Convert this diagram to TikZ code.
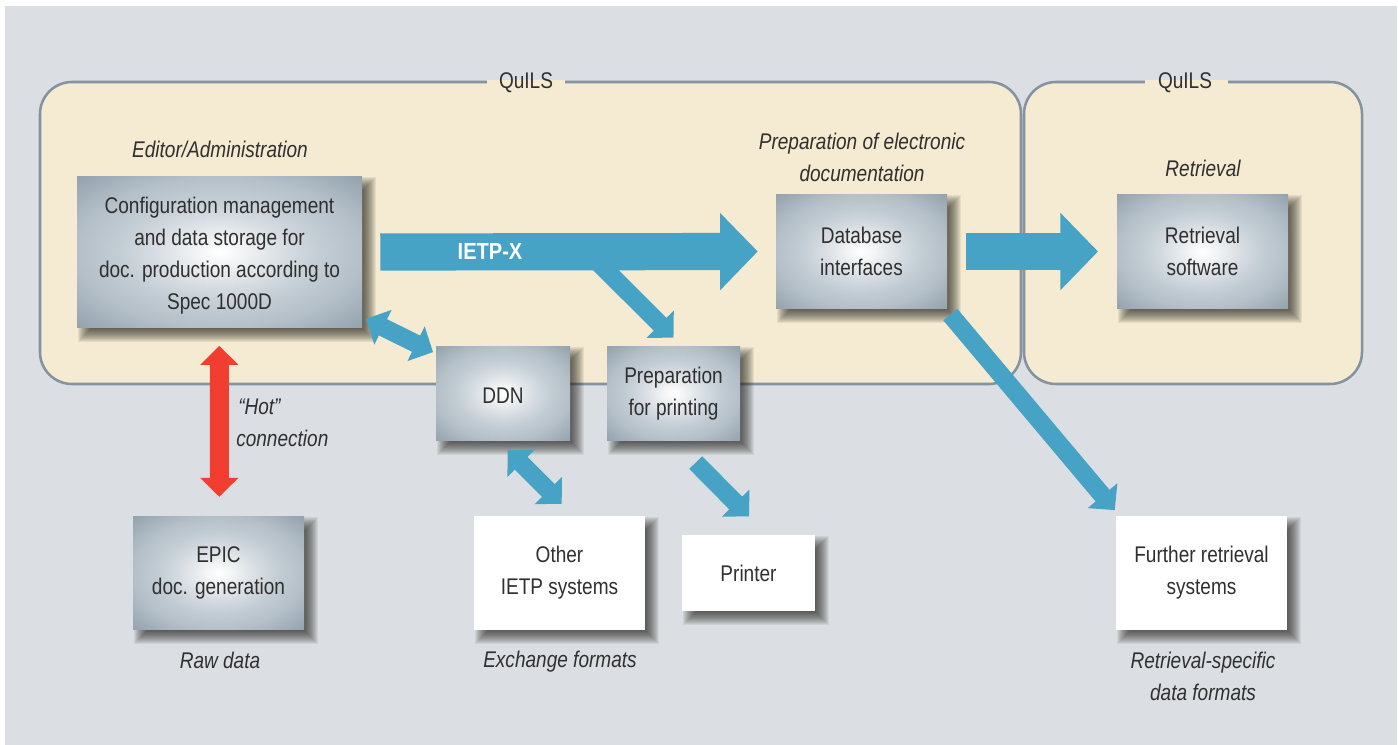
\documentclass[tikz,border=0pt]{standalone}
\usepackage{fontspec}
\setmainfont{Liberation Sans}[FakeStretch=0.84]
\newfontfamily\boldcond{Liberation Sans Bold}[FakeStretch=0.86]
\usetikzlibrary{arrows.meta,calc}
\definecolor{bgc}{HTML}{DBDFE3}
\definecolor{panelc}{HTML}{F5EAD2}
\definecolor{panelline}{HTML}{83939F}
\definecolor{arrowc}{HTML}{46A3C5}
\definecolor{hotc}{HTML}{F13E31}
\definecolor{textc}{HTML}{303030}
\definecolor{shadowc}{HTML}{1E1C18}
\definecolor{sa}{HTML}{F2F4F5}
\definecolor{sb}{HTML}{D8DEE3}
\definecolor{sc}{HTML}{C2CCD3}
\definecolor{sd}{HTML}{B4BFC8}
\definecolor{se}{HTML}{94A3AE}
\pgfdeclareradialshading{boxrad}{\pgfpoint{0bp}{0bp}}{%
  color(0bp)=(white);
  color(4bp)=(sa);
  color(11bp)=(sb);
  color(18bp)=(sc);
  color(25bp)=(sd);
  color(35bp)=(se);
  color(50bp)=(se)}
\tikzset{
  x=0.75pt,y=-0.75pt,
  panel/.style={draw=panelline,line width=1.9pt,fill=panelc,rounded corners=24pt},
  boxbase/.style={inner sep=0pt,align=center,text=textc,font=\fontsize{17}{24}\selectfont},
  graybox/.style={boxbase,shading=boxrad},
  whitebox/.style={boxbase,fill=white},
  caption/.style={inner sep=0pt,align=center,text=textc,font=\fontsize{17}{24}\selectfont\itshape},
  titlegap/.style={fill=panelc,inner sep=0pt,minimum height=2.6pt},
  paneltitle/.style={inner sep=0pt,text=textc,font=\fontsize{17}{24}\selectfont},
  bigflow/.style={draw=arrowc,line width=27.9pt,-{Triangle[length=28.2pt,width=56.25pt,fill=arrowc]}},
  smallflow/.style={draw=arrowc,line width=13.6pt,-{Triangle[length=14.2pt,width=28.2pt,fill=arrowc]}},
  bothflow/.style={draw=arrowc,line width=13.6pt,{Triangle[length=14.2pt,width=28.2pt,fill=arrowc]}-{Triangle[length=14.2pt,width=28.2pt,fill=arrowc]}},
  hotflow/.style={draw=hotc,line width=14.2pt,{Triangle[length=14.2pt,width=27.8pt,fill=hotc]}-{Triangle[length=14.2pt,width=27.8pt,fill=hotc]}},
}
% name, style, x1, y1, x2, y2, text
\newcommand\boxat[7]{%
  \foreach \blurstep in {-7,-6,-5,-4,-3,-2,-1,0,1,2,3,4,5,6,7}{%
    \pgfmathsetmacro\sxa{#3+8-\blurstep}
    \pgfmathsetmacro\sya{#4+8-\blurstep}
    \pgfmathsetmacro\sxb{#5+7+\blurstep}
    \pgfmathsetmacro\syb{#6+7+\blurstep}
    \fill[shadowc,fill opacity=0.072] (\sxa,\sya) rectangle (\sxb,\syb);
  }
  \node[#2,minimum width={(#5-#3)*0.75pt},minimum height={(#6-#4-0.8)*0.75pt}]
    (#1) at ({(#3+#5)/2},{(#4+#6)/2}) {#7};
}
\begin{document}
\begin{tikzpicture}
\useasboundingbox (0,0) rectangle (1398,745);
\fill[white] (0,0) rectangle (1398,745);
\fill[bgc] (5,6) rectangle (1397,745);
% panels
\draw[panel] (40,82) rectangle (1021,384);
\draw[panel] (1024,82) rectangle (1362,384);
\node[titlegap,minimum width=58.5pt] (g1) at (526,82) {};
\node[titlegap,minimum width=62pt] (g2) at (1186.3,82) {};
\node[paneltitle] (q1) at (526,82.5) {QuILS};
\node[paneltitle] (q2) at (1185,82.5) {QuILS};
% boxes
\boxat{cfg}{graybox}{77}{176}{362}{328}{\rule{0pt}{18pt}Configuration management\\and data storage for\\doc. production according to\\Spec 1000D}
\boxat{db}{graybox}{776}{194}{947}{309}{Database\\interfaces}
\boxat{ret}{graybox}{1117}{194}{1288}{309}{Retrieval\\software}
\boxat{ddn}{graybox}{436}{346}{570}{441}{\rule{0pt}{15pt}DDN}
\boxat{prep}{graybox}{607}{346}{740}{441}{Preparation\\for printing}
\boxat{epic}{graybox}{133}{516}{304}{630}{EPIC\\doc. generation}
\boxat{other}{whitebox}{474}{516}{645}{630}{Other\\IETP systems}
\boxat{printer}{whitebox}{682}{535}{815}{611}{Printer}
\boxat{further}{whitebox}{1116}{516}{1287}{630}{Further retrieval\\systems}
% captions
\node[caption] (c1) at (220,149) {Editor/Administration};
\node[caption] (c2) at (862,157) {Preparation of electronic\\documentation};
\node[caption] (c3) at (1203,168) {Retrieval};
\node[caption,align=left,anchor=west] (c4) at (236,423) {\hspace{1.5pt}“Hot”\\connection};
\node[caption] (c5) at (220,660) {Raw data};
\node[caption] (c6) at (560,662) {Exchange formats};
\node[caption] (c7) at (1203,676) {Retrieval-specific\\data formats};
% flows
\coordinate (ietpstart) at ($(cfg.east)+(18,0)$);
\coordinate (ietptip) at ($(db.west)+(-18,0)$);
\draw[bigflow] (ietpstart) -- (ietptip);
\node[inner sep=0pt,text=white,font=\boldcond\fontsize{17.5}{20}\selectfont] (ietp) at (490,251.5) {IETP-X};
\coordinate (branch) at ($(ietpstart)+(210,2.5)$);
\coordinate (preptip) at ($(prep.north)+(0,-8.5)$);
\draw[smallflow] (branch) -- (preptip);
\draw[bigflow] ($(db.east)+(19,0)$) -- ($(ret.west)+(-18.7,0)$);
\draw[smallflow] ($(db.south east)+(3,5.7)$) -- ($(further.north west)+(-1,-6)$);
\draw[bothflow] ($(cfg.south east)+(3.7,-9)$) -- ($(ddn.north west)+(-2.7,6)$);
\draw[bothflow] ($(ddn.south)+(4.7,9)$) -- ($(other.north)+(2.2,-12.3)$);
\draw[smallflow] ($(prep.south)+(22.2,21.7)$) -- ($(printer.north)+(0.5,-18.7)$);
\draw[hotflow] ($(cfg.south)+(-0.2,18)$) -- ($(epic.north)+(0.8,-19.3)$);
\end{tikzpicture}
\end{document}
